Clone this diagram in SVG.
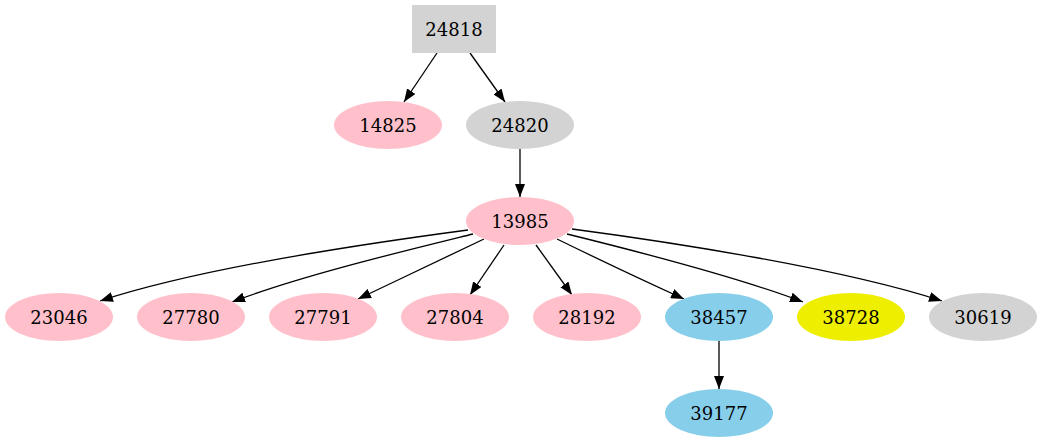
<svg xmlns="http://www.w3.org/2000/svg" width="1042" height="443" viewBox="0 0 1042 443">
<style>
.pink{fill:#ffc0cb}
.grey{fill:#d3d3d3}
.blue{fill:#87ceeb}
.yellow{fill:#eeee00}
text{font-family:"DejaVu Serif","Liberation Serif",serif;font-size:18px;fill:#000;text-anchor:middle}
.edge{fill:none;stroke:#000;stroke-width:1.3;marker-end:url(#arr)}
</style>
<defs>
<marker id="arr" markerUnits="userSpaceOnUse" markerWidth="14" markerHeight="10" refX="13" refY="5" orient="auto">
<path d="M0,0 L13,5 L0,10 z" fill="#000"/>
</marker>
</defs>
<rect width="1042" height="443" fill="#fff"/>
<g id="edges">
<path class="edge" d="M437,53 L404,102"/>
<path class="edge" d="M470,53 L505,102"/>
<path class="edge" d="M520,149 L520,197"/>
<path class="edge" d="M468,230 C370,243 200,268 100,301"/>
<path class="edge" d="M473,234 C400,252 300,276 232,302"/>
<path class="edge" d="M484,239 C440,260 400,279 358,299"/>
<path class="edge" d="M504,245 L470,295"/>
<path class="edge" d="M536,245 L572,295"/>
<path class="edge" d="M557,239 C600,260 640,279 684,299"/>
<path class="edge" d="M567,234 C640,252 740,278 803,302"/>
<path class="edge" d="M572,229 C670,242 840,268 942,301"/>
<path class="edge" d="M719,341 L719,389"/>
</g>
<g id="n24818"><rect class="grey" x="412" y="5" width="84" height="48"/><text x="454" y="36">24818</text></g>
<g id="n14825"><ellipse class="pink" cx="388" cy="125" rx="54" ry="24"/><text x="388" y="132">14825</text></g>
<g id="n24820"><ellipse class="grey" cx="520" cy="125" rx="54" ry="24"/><text x="520" y="132">24820</text></g>
<g id="n13985"><ellipse class="pink" cx="520" cy="221" rx="54" ry="24"/><text x="520" y="228">13985</text></g>
<g id="n23046"><ellipse class="pink" cx="59" cy="317" rx="54" ry="24"/><text x="59" y="324">23046</text></g>
<g id="n27780"><ellipse class="pink" cx="191" cy="317" rx="54" ry="24"/><text x="191" y="324">27780</text></g>
<g id="n27791"><ellipse class="pink" cx="323" cy="317" rx="54" ry="24"/><text x="323" y="324">27791</text></g>
<g id="n27804"><ellipse class="pink" cx="455" cy="317" rx="54" ry="24"/><text x="455" y="324">27804</text></g>
<g id="n28192"><ellipse class="pink" cx="587" cy="317" rx="54" ry="24"/><text x="587" y="324">28192</text></g>
<g id="n38457"><ellipse class="blue" cx="719" cy="317" rx="54" ry="24"/><text x="719" y="324">38457</text></g>
<g id="n38728"><ellipse class="yellow" cx="851" cy="317" rx="54" ry="24"/><text x="851" y="324">38728</text></g>
<g id="n30619"><ellipse class="grey" cx="983" cy="317" rx="54" ry="24"/><text x="983" y="324">30619</text></g>
<g id="n39177"><ellipse class="blue" cx="719" cy="413" rx="54" ry="24"/><text x="719" y="420">39177</text></g>
</svg>
